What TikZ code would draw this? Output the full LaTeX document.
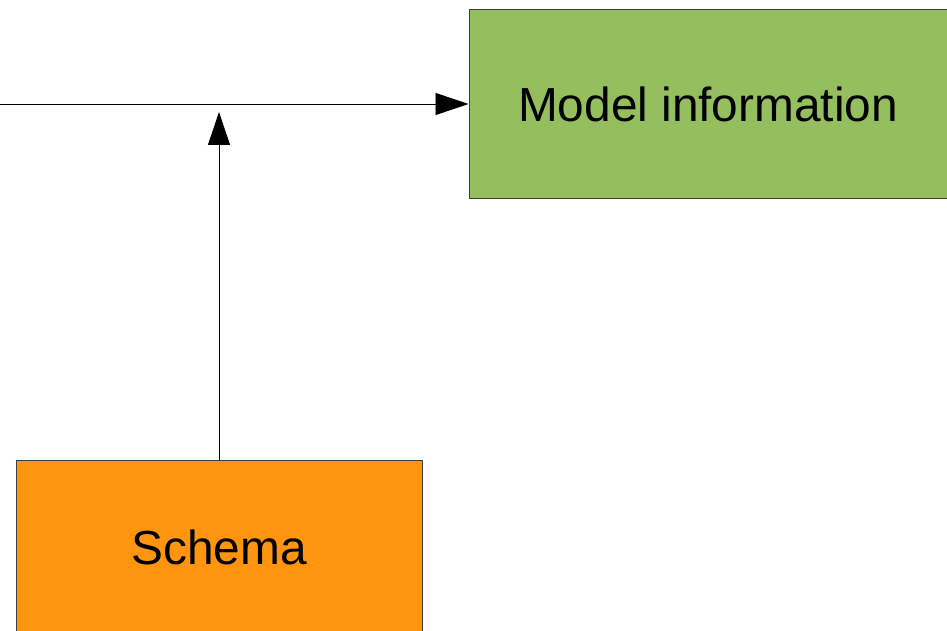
\documentclass[tikz,border=0pt]{standalone}
\usepackage{fontspec}
\setmainfont{Liberation Sans}
\usetikzlibrary{arrows.meta}
\definecolor{boxgreen}{RGB}{149,190,95}
\definecolor{boxorange}{RGB}{255,148,14}
\definecolor{edgegrey}{RGB}{60,60,60}
\begin{document}
\begin{tikzpicture}[x=1pt,y=-1pt,
  box/.style={draw=edgegrey, line width=1pt, inner sep=0pt, font=\fontsize{47.8}{56}\selectfont},
  conn/.style={draw=black, line width=0.9pt, -{Triangle[length=33pt,width=22pt]}}]
\useasboundingbox (0,0) rectangle (947,631);
\clip (0,0) rectangle (947,631);
\fill[white] (0,0) rectangle (947,631);
\node[box, fill=boxgreen, minimum width=478pt, minimum height=189pt] (model) at (708,104) {Model information};
\node[box, fill=boxorange, minimum width=406pt, minimum height=174pt] (schema) at (219,547) {Schema};
\coordinate (start) at (0,104);
\coordinate (up) at (219,112);
\draw[conn] (start) -- (model.west);
\draw[conn] (schema.north) -- (up);
\end{tikzpicture}
\end{document}
